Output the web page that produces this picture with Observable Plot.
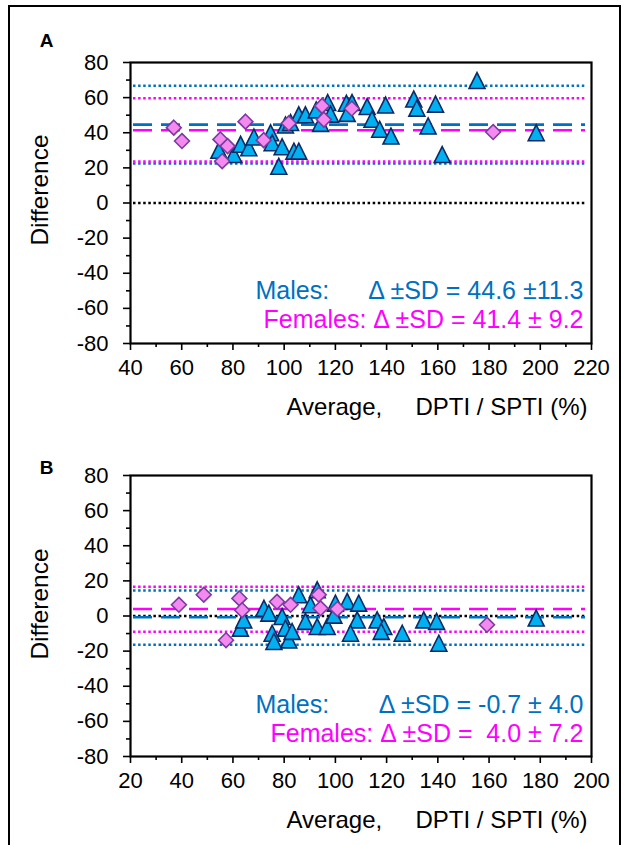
<!DOCTYPE html>
<html><head><meta charset="utf-8">
<script src="https://cdn.jsdelivr.net/npm/d3@7"></script>
<script src="https://cdn.jsdelivr.net/npm/@observablehq/plot@0.6"></script>
<style>
html,body{margin:0;padding:0;background:#fff;}
#fig{position:relative;width:625px;height:845px;overflow:hidden;}
#border{position:absolute;left:8px;top:5px;width:613px;height:900px;border:2px solid #000;box-sizing:border-box;}
.panel{position:absolute;left:0;}
.panel svg{overflow:visible;}
</style></head><body>
<div id="fig"><div id="border"></div><div id="pa" class="panel" style="top:0"></div><div id="pb" class="panel" style="top:425px"></div></div>
<script>
// ---- Panel A data ----
const aMaleAvg  = [74.5,80.3,83,86.2,88.2,94.7,95.3,99.2,97.9,103.8,105.7,100.5,102.5,105.7,108.3,112.5,114.2,117.0,118.1,124.3,126.5,124.6,132.4,134.3,137.3,139.6,141.7,150.6,151.8,159.1,156.2,161.7,175.3,198.4];
const aMaleDiff = [30.0,27.6,33.4,31.4,37.6,40.0,34.3,32.0,20.9,29.5,29.5,44.4,45.8,50.2,50.2,53.0,45.3,57.2,50.6,56.8,57.2,51.0,54.9,47.7,42.0,55.8,38.1,59.2,54.0,56.3,43.9,27.6,69.7,40.0];
const aFemaleAvg  = [56.9,60.1,75.1,77.9,75.8,84.9,92.0,101.8,114.8,115.5,126.4,181.6];
const aFemaleDiff = [42.9,35.3,36.2,32.4,23.8,46.3,35.8,45.4,55.3,47.5,53.8,40.4];
const aMaleLines   = {mean: 44.6, upper: 66.7, lower: 22.5};
const aFemaleLines = {mean: 41.4, upper: 59.6, lower: 23.6};
const aXTicks = [40,60,80,100,120,140,160,180,200,220];
const aLegend = {male: "Δ ±SD = 44.6 ±11.3", female: "Females: Δ ±SD = 41.4 ± 9.2"};

// ---- Panel B data ----
const bMaleAvg  = [62.9,64.2,72.1,74.0,75.3,76.0,79.2,80.5,81.8,83.1,85.7,88.3,90.3,92.9,92.9,96.8,99.4,100.0,104.6,109.1,108.5,105.9,116.3,118.9,117.9,126.1,134.5,139.5,140.4,178.4];
const bMaleDiff = [-6.9,-2.2,4.4,1.6,-9.8,-14.5,-0.3,-6.9,-13.6,-8.8,12.1,-3.1,6.4,14.9,-6.0,-6.0,0.5,7.3,8.3,7.3,-2.2,-9.8,-2.2,-6.0,-8.8,-9.8,-2.2,-3.1,-15.5,-1.2];
const bFemaleAvg  = [38.9,48.6,57.3,62.5,63.6,77.2,82.5,93.5,94.2,100.8,159.2];
const bFemaleDiff = [6.4,12.1,-13.8,10.0,3.3,8.1,6.4,12.1,4.4,4.0,-5.0];
const bMaleLines   = {mean: -0.7, upper: 14.5, lower: -16.4};
const bFemaleLines = {mean: 4.0, upper: 16.6, lower: -9.0};
const bXTicks = [20,40,60,80,100,120,140,160,180,200];
const bLegend = {male: "Δ ±SD = -0.7 ± 4.0", female: "Females: Δ ±SD =  4.0 ± 7.2"};

const yTicks = [-80,-60,-40,-20,0,20,40,60,80];
const yMinor = [-70,-50,-30,-10,10,30,50,70];

const FONT = 'Arial, "Liberation Sans", sans-serif';
const MALE = "#0070C0", FEMALE = "#FF00FF";
const NB = "\u00A0";

// Excel-like isoceles triangle marker (bbox centred)
const triSymbol = {draw(ctx, size) {
  const h = Math.sqrt(size) * 1.45;
  ctx.moveTo(0, -h / 2); ctx.lineTo(h / 2, h / 2); ctx.lineTo(-h / 2, h / 2); ctx.closePath();
}};

function panel(o) {
  const males = o.maleAvg.map((x, i) => ({x, y: o.maleDiff[i]}));
  const females = o.femaleAvg.map((x, i) => ({x, y: o.femaleDiff[i]}));
  const xMinor = o.xTicks.slice(0, -1).map(t => t + 10);
  const dotted = {strokeWidth: 2.5, strokeDasharray: "2.5,2.6", insetLeft: 3, insetRight: 6};
  const dashed = {strokeWidth: 2.6, strokeDasharray: "19,9", insetLeft: 3, insetRight: 6};
  const txt = {lineAnchor: "middle"};
  return Plot.plot({
    width: 625, height: o.height,
    marginLeft: 130, marginRight: 34, marginTop: o.mt, marginBottom: o.mb,
    style: {fontFamily: FONT, background: "transparent", color: "#000"},
    x: {domain: [o.xTicks[0], o.xTicks[o.xTicks.length - 1]], label: null},
    y: {domain: [-80, 80], label: null},
    marks: [
      Plot.ruleY([0], {stroke: "#000", ...dotted}),
      Plot.ruleY([o.maleLines.upper, o.maleLines.lower], {stroke: MALE, ...dotted}),
      Plot.ruleY([o.femaleLines.upper, o.femaleLines.lower], {stroke: FEMALE, ...dotted}),
      Plot.ruleY([o.maleLines.mean], {stroke: MALE, ...dashed}),
      Plot.ruleY([o.femaleLines.mean], {stroke: FEMALE, ...dashed}),
      Plot.dot(males, {x: "x", y: "y", symbol: triSymbol, r: 6.2, fill: "#00B0F0", stroke: "#0B2A66", strokeWidth: 1.6}),
      Plot.dot(females, {x: "x", y: "y", symbol: "diamond2", r: 6.7, fill: "#F48AF0", stroke: "#7A3A9E", strokeWidth: 1.6}),
      Plot.axisY(yTicks, {tickSize: 7, tickPadding: 15, fontSize: 22, strokeWidth: 1.6, label: null, tickFormat: d => String(d)}),
      Plot.axisY(yMinor, {tickSize: 4, tickFormat: () => "", strokeWidth: 1.6, label: null}),
      Plot.axisX(o.xTicks, {tickSize: 7, tickPadding: 9, fontSize: 22, strokeWidth: 1.6, label: null, tickFormat: d => String(d)}),
      Plot.axisX(xMinor, {tickSize: 4, tickFormat: () => "", strokeWidth: 1.6, label: null}),
      Plot.frame({stroke: "#000", strokeWidth: 2.2}),
      Plot.text([o.tag], {...txt, frameAnchor: "top-left", textAnchor: "middle", dx: -84, dy: o.tagDy, fontSize: 19, fontWeight: "bold", fill: "#000"}),
      Plot.text(["Difference"], {...txt, frameAnchor: "left", textAnchor: "middle", dx: -90, dy: o.ylabDy, rotate: -90, fontSize: 24.5, fill: "#000"}),
      Plot.text(["Average," + NB.repeat(5) + "DPTI / SPTI (%)"], {...txt, frameAnchor: "bottom-right", textAnchor: "end", dx: -4, dy: 64, fontSize: 24, fill: "#000"}),
      Plot.text(["Males:"], {...txt, frameAnchor: "bottom-left", textAnchor: "start", dx: 125, dy: o.legDy[0], fontSize: 25, fill: MALE}),
      Plot.text([o.legend.male], {...txt, frameAnchor: "bottom-right", textAnchor: "end", dx: -8, dy: o.legDy[0], fontSize: 25, fill: MALE}),
      Plot.text([o.legend.female.replace(/  /g, " " + NB)], {...txt, frameAnchor: "bottom-right", textAnchor: "end", dx: -8, dy: o.legDy[1], fontSize: 25, fill: FEMALE})
    ]
  });
}

document.getElementById("pa").append(panel({
  height: 425, mt: 62, mb: 82, tag: "A", tagDy: -22, ylabDy: -13, legDy: [-53, -24],
  xTicks: aXTicks, maleAvg: aMaleAvg, maleDiff: aMaleDiff, femaleAvg: aFemaleAvg, femaleDiff: aFemaleDiff,
  maleLines: aMaleLines, femaleLines: aFemaleLines, legend: aLegend
}));
document.getElementById("pb").append(panel({
  height: 420, mt: 50, mb: 89, tag: "B", tagDy: -8, ylabDy: -12, legDy: [-52, -23],
  xTicks: bXTicks, maleAvg: bMaleAvg, maleDiff: bMaleDiff, femaleAvg: bFemaleAvg, femaleDiff: bFemaleDiff,
  maleLines: bMaleLines, femaleLines: bFemaleLines, legend: bLegend
}));
</script>
</body></html>
